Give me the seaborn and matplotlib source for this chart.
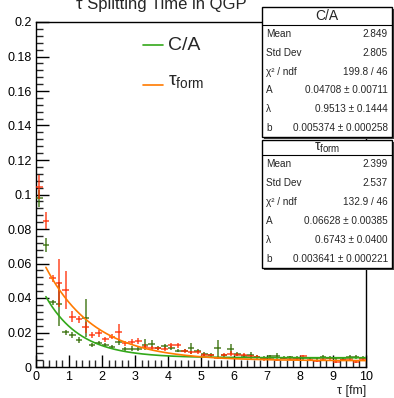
import numpy as np
import pandas as pd
import matplotlib
matplotlib.use("Agg")
import matplotlib.pyplot as plt
import seaborn as sns
from matplotlib.patches import Rectangle

# ---------------- data ----------------
bin_centers = [round(0.1 + 0.2 * i, 1) for i in range(50)]

ca_values = [0.0978, 0.0705, 0.0375, 0.0365, 0.0201, 0.0186, 0.0157, 0.0282, 0.0129, 0.0139,
             0.0126, 0.0116, 0.0145, 0.0106, 0.0107, 0.0107, 0.0130, 0.0135, 0.0110, 0.0120,
             0.0110, 0.0095, 0.0095, 0.0108, 0.0095, 0.0075, 0.0070, 0.0108, 0.0068, 0.0104,
             0.0075, 0.0065, 0.0068, 0.0060, 0.0055, 0.0062, 0.0065, 0.0055, 0.0058, 0.0055,
             0.0050, 0.0052, 0.0050, 0.0060, 0.0055, 0.0050, 0.0045, 0.0060, 0.0058, 0.0055]
ca_errors = [0.0050, 0.0040, 0.0015, 0.0130, 0.0015, 0.0015, 0.0015, 0.0110, 0.0012, 0.0012,
             0.0012, 0.0012, 0.0015, 0.0012, 0.0012, 0.0012, 0.0030, 0.0020, 0.0012, 0.0015,
             0.0012, 0.0010, 0.0010, 0.0030, 0.0010, 0.0010, 0.0010, 0.0050, 0.0010, 0.0030,
             0.0010, 0.0010, 0.0020, 0.0010, 0.0008, 0.0010, 0.0015, 0.0008, 0.0008, 0.0008,
             0.0008, 0.0008, 0.0008, 0.0012, 0.0008, 0.0008, 0.0008, 0.0010, 0.0010, 0.0008]

tf_values = [0.1045, 0.0848, 0.0514, 0.0485, 0.0446, 0.0292, 0.0276, 0.0230, 0.0186, 0.0195,
             0.0160, 0.0176, 0.0201, 0.0137, 0.0147, 0.0151, 0.0118, 0.0112, 0.0108, 0.0105,
             0.0125, 0.0125, 0.0092, 0.0085, 0.0088, 0.0070, 0.0070, 0.0055, 0.0072, 0.0078,
             0.0072, 0.0072, 0.0062, 0.0058, 0.0045, 0.0048, 0.0042, 0.0052, 0.0048, 0.0046,
             0.0063, 0.0040, 0.0035, 0.0045, 0.0050, 0.0030, 0.0040, 0.0044, 0.0030, 0.0045]
tf_errors = [0.0070, 0.0050, 0.0020, 0.0140, 0.0110, 0.0030, 0.0020, 0.0030, 0.0015, 0.0020,
             0.0015, 0.0015, 0.0048, 0.0015, 0.0015, 0.0020, 0.0015, 0.0012, 0.0010, 0.0010,
             0.0015, 0.0015, 0.0010, 0.0010, 0.0010, 0.0010, 0.0008, 0.0010, 0.0010, 0.0015,
             0.0010, 0.0010, 0.0010, 0.0010, 0.0010, 0.0008, 0.0008, 0.0008, 0.0008, 0.0008,
             0.0008, 0.0007, 0.0007, 0.0008, 0.0008, 0.0007, 0.0007, 0.0008, 0.0007, 0.0008]

# fit parameters (from stat boxes): f = A*exp(-lambda*x) + b
ca_fit = dict(A=0.04708, lam=0.9513, b=0.005374)
tf_fit = dict(A=0.06628, lam=0.6743, b=0.003641)
fit_range = (0.3, 10.0)

ca_stats = [("Mean", "2.849"), ("Std Dev", "2.805"), ("χ² / ndf", "199.8 / 46"),
            ("A", "0.04708 ± 0.00711"), ("λ", "0.9513 ± 0.1444"), ("b", "0.005374 ± 0.000258")]
tf_stats = [("Mean", "2.399"), ("Std Dev", "2.537"), ("χ² / ndf", "132.9 / 46"),
            ("A", "0.06628 ± 0.00385"), ("λ", "0.6743 ± 0.0400"), ("b", "0.003641 ± 0.000221")]

# ---------------- style ----------------
sns.set_style("ticks")
plt.rcParams["font.family"] = ["Liberation Sans", "DejaVu Sans"]
plt.rcParams["mathtext.fontset"] = "custom"
plt.rcParams["mathtext.rm"] = "Liberation Sans"
plt.rcParams["mathtext.it"] = "Liberation Sans"

W, H = 394, 398
fig = plt.figure(figsize=(W / 100, H / 100), dpi=100)
ax = fig.add_axes([36 / W, 1 - 367 / H, (366 - 36) / W, (367 - 22) / H])

GREEN_PT = "#2f6a00"
GREEN_LN = "#33a81a"
RED_PT = "#ff2a00"
ORANGE_LN = "#ff7a00"

df_ca = pd.DataFrame({"x": bin_centers, "y": ca_values, "e": ca_errors})
df_tf = pd.DataFrame({"x": bin_centers, "y": tf_values, "e": tf_errors})

xf = np.linspace(fit_range[0], fit_range[1], 400)
df_fit = pd.DataFrame({
    "x": np.concatenate([xf, xf]),
    "y": np.concatenate([ca_fit["A"] * np.exp(-ca_fit["lam"] * xf) + ca_fit["b"],
                         tf_fit["A"] * np.exp(-tf_fit["lam"] * xf) + tf_fit["b"]]),
    "s": ["C/A"] * len(xf) + ["tf"] * len(xf),
})

# error crosses
for d, c in ((df_ca, GREEN_PT), (df_tf, RED_PT)):
    ax.errorbar(d["x"], d["y"], xerr=0.1, yerr=d["e"], fmt="none", ecolor=c,
                elinewidth=1.1, capsize=0, alpha=0.85, zorder=3)

sns.lineplot(data=df_fit, x="x", y="y", hue="s", palette={"C/A": GREEN_LN, "tf": ORANGE_LN},
             ax=ax, legend=False, linewidth=1.2, zorder=4)

ax.set_xlim(0, 10)
ax.set_ylim(0, 0.2)
ax.set_xlabel("")
ax.set_ylabel("")

# ticks ROOT-like
ax.set_xticks(np.arange(0, 11, 1))
ax.set_xticklabels([str(i) for i in range(11)])
ax.set_xticks(np.arange(0, 10.01, 0.2), minor=True)
ax.set_yticks(np.arange(0, 0.2001, 0.02))
ax.set_yticklabels(["0", "0.02", "0.04", "0.06", "0.08", "0.1", "0.12", "0.14", "0.16", "0.18", "0.2"])
ax.set_yticks(np.arange(0, 0.2001, 0.004), minor=True)
ax.tick_params(which="major", direction="in", length=9, width=1, labelsize=9, pad=3,
               top=False, right=False, colors="black")
ax.tick_params(which="minor", direction="in", length=5, width=1, top=False, right=False)
for s in ax.spines.values():
    s.set_linewidth(1)
    s.set_color("black")

fig.text(366 / W, 1 - 391 / H, "τ [fm]", ha="right", va="center", fontsize=9)

# title (partly cropped at top, as in the reference)
fig.text(161 / W, 1 - 4 / H, "τ Splitting Time in QGP", ha="center", va="center", fontsize=12)

# legend
fig.add_artist(plt.Line2D([143 / W, 163 / W], [1 - 45 / H, 1 - 45 / H], color=GREEN_LN, lw=1.2))
fig.text(168 / W, 1 - 45 / H, "C/A", ha="left", va="center", fontsize=14)
fig.add_artist(plt.Line2D([143 / W, 163 / W], [1 - 85 / H, 1 - 85 / H], color=ORANGE_LN, lw=1.2))
fig.text(168 / W, 1 - 82 / H, r"τ$_{\mathregular{form}}$", ha="left", va="center", fontsize=14)


def stat_box(top, bottom, header, rows, head_line):
    x0, x1 = 262, 392
    fig.add_artist(Rectangle((x0 / W + 2 / W, 1 - (bottom + 2) / H), (x1 - x0) / W, (bottom - top) / H,
                             transform=fig.transFigure, facecolor="#404040", edgecolor="none", zorder=9))
    fig.add_artist(Rectangle((x0 / W, 1 - bottom / H), (x1 - x0) / W, (bottom - top) / H,
                             transform=fig.transFigure, facecolor="white", edgecolor="black",
                             lw=1, zorder=10))
    fig.add_artist(plt.Line2D([x0 / W, x1 / W], [1 - head_line / H] * 2, color="black", lw=0.8, zorder=11))
    fig.text((x0 + x1) / 2 / W, 1 - (top + head_line) / 2 / H, header, ha="center", va="center",
             fontsize=10, zorder=12)
    n = len(rows)
    step = (bottom - head_line) / n
    for i, (k, v) in enumerate(rows):
        yy = head_line + step * (i + 0.5)
        fig.text((x0 + 4) / W, 1 - yy / H, k, ha="left", va="center", fontsize=7.2, zorder=12)
        fig.text((x1 - 4) / W, 1 - yy / H, v, ha="right", va="center", fontsize=7.2, zorder=12)


stat_box(7, 137, "C/A", ca_stats, 25)
stat_box(140, 268, r"τ$_{\mathregular{form}}$", tf_stats, 155)

fig.savefig("out.png", dpi=100)
